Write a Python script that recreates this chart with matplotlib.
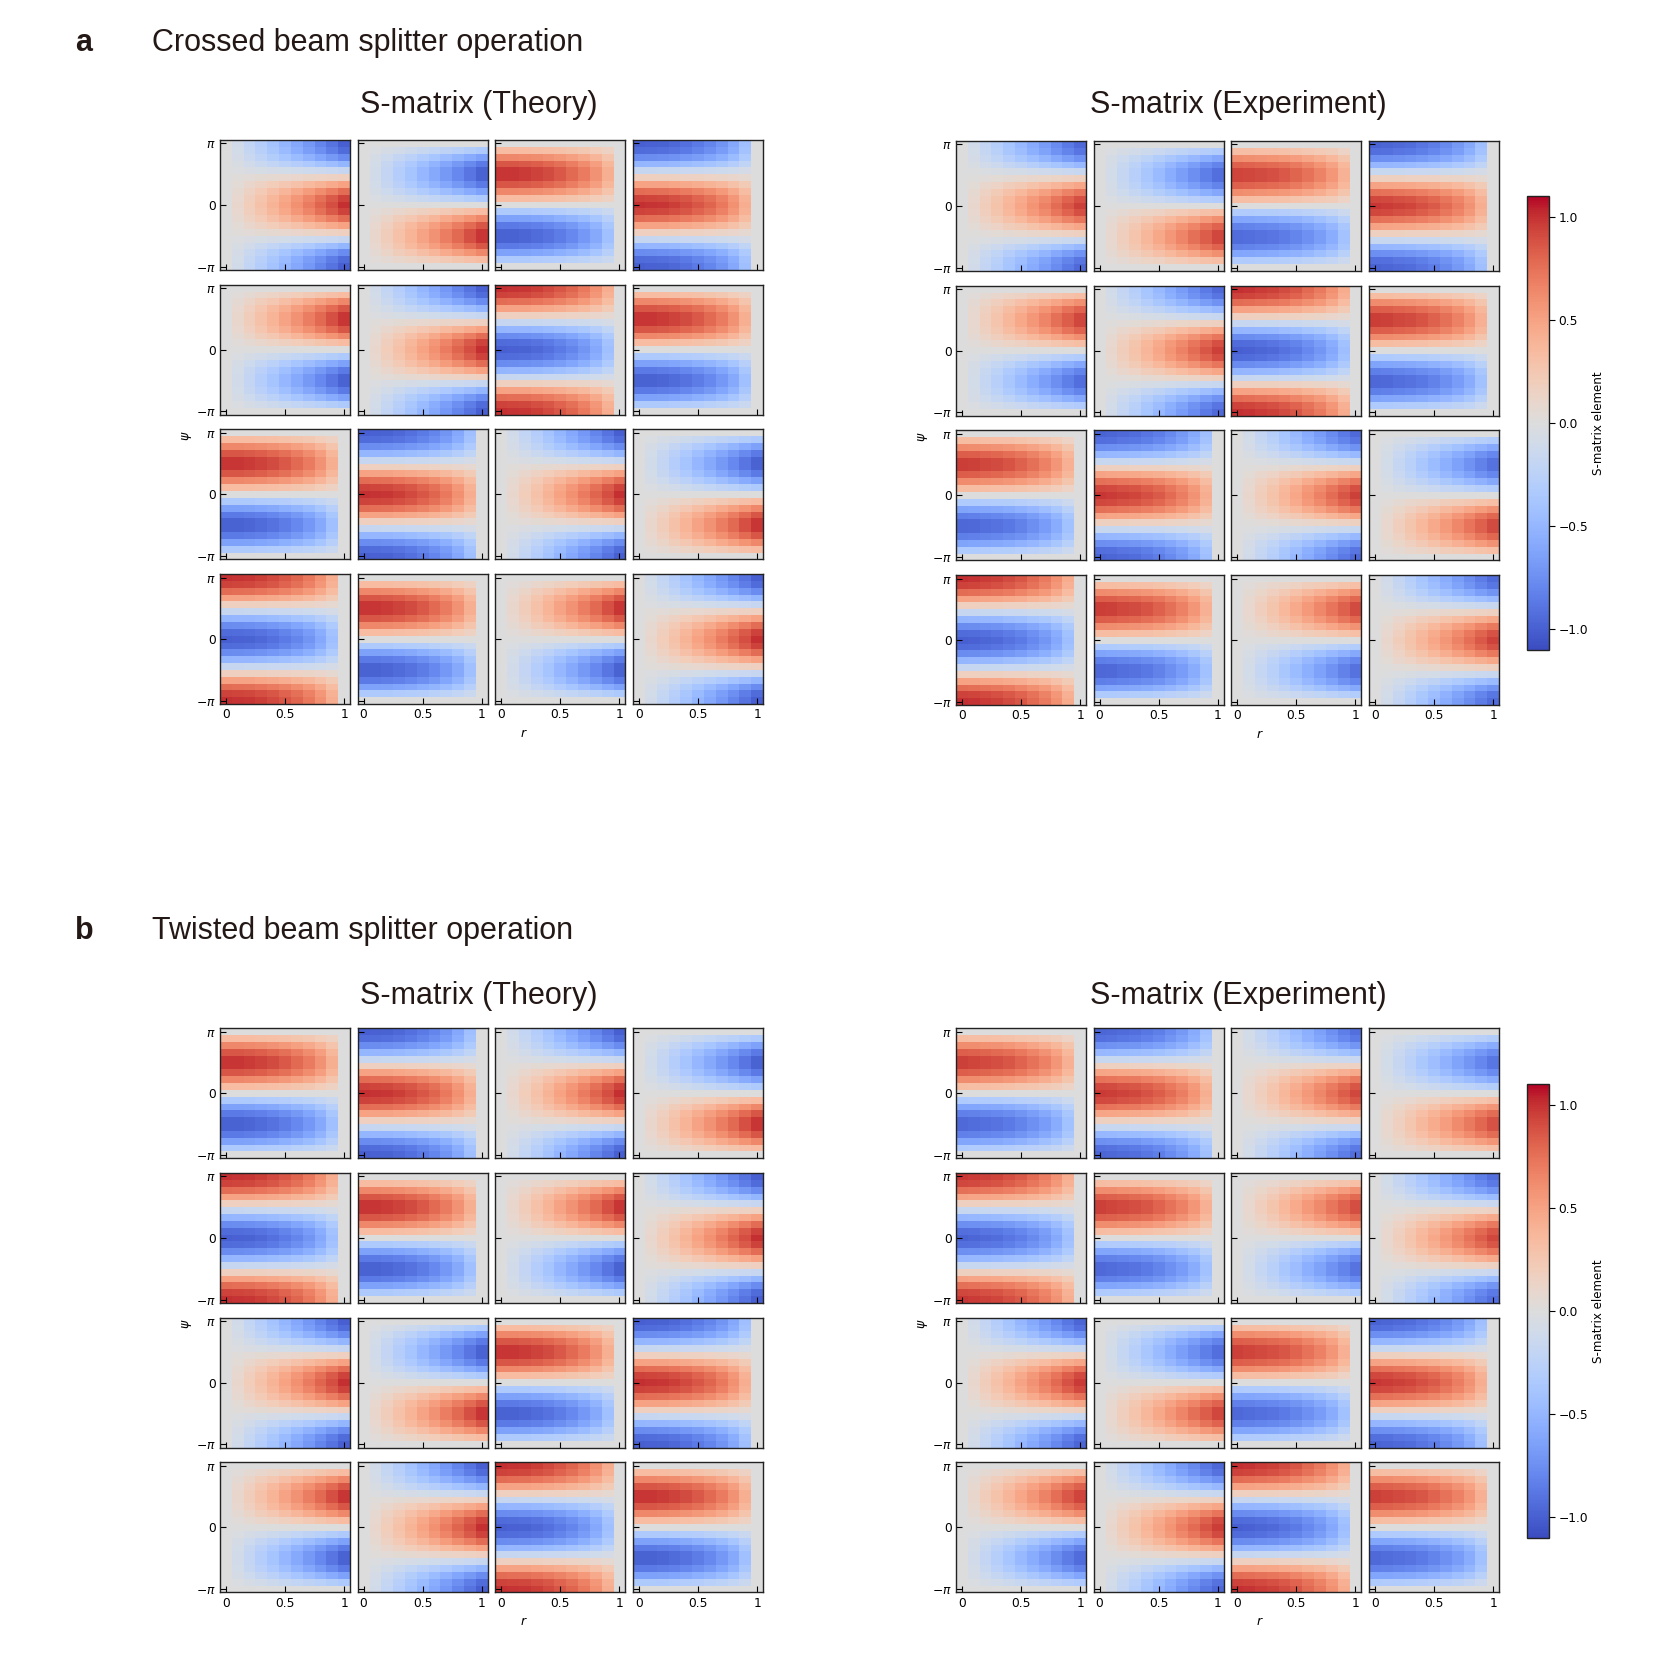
import numpy as np
import matplotlib
matplotlib.use("Agg")
import matplotlib.pyplot as plt

W, H = 1660, 1662
DPI = 100

# sampled grid of every panel
r_vals = [0.0, 0.1, 0.2, 0.3, 0.4, 0.5, 0.6, 0.7, 0.8, 0.9, 1.0]
psi_vals = [-3.142, -2.793, -2.443, -2.094, -1.745, -1.396, -1.047, -0.698, -0.349, 0.0,
            0.349, 0.698, 1.047, 1.396, 1.745, 2.094, 2.443, 2.793, 3.142]

# profiles along r
r_rise = [0.0, 0.1, 0.2, 0.3, 0.4, 0.5, 0.6, 0.7, 0.8, 0.9, 1.0]
r_fall = [1.0, 0.995, 0.98, 0.954, 0.917, 0.866, 0.8, 0.714, 0.6, 0.436, 0.0]
r_rise_exp = [0.0, 0.1, 0.2, 0.3, 0.4, 0.5, 0.6, 0.7, 0.8, 0.9, 0.99]
r_fall_exp = [1.0, 0.99, 0.97, 0.95, 0.91, 0.86, 0.79, 0.71, 0.6, 0.44, 0.0]

# profiles along psi, bottom to top
psi_cos = [-1.0, -0.94, -0.766, -0.5, -0.174, 0.174, 0.5, 0.766, 0.94, 1.0,
           0.94, 0.766, 0.5, 0.174, -0.174, -0.5, -0.766, -0.94, -1.0]
psi_sin = [0.0, -0.342, -0.643, -0.866, -0.985, -0.985, -0.866, -0.643, -0.342, 0.0,
           0.342, 0.643, 0.866, 0.985, 0.985, 0.866, 0.643, 0.342, 0.0]

# which profiles each panel of the 4x4 grid uses
crossed_r = [["rise", "rise", "fall", "fall"],
             ["rise", "rise", "fall", "fall"],
             ["fall", "fall", "rise", "rise"],
             ["fall", "fall", "rise", "rise"]]
crossed_psi = [["cos", "-sin", "sin", "cos"],
               ["sin", "cos", "-cos", "sin"],
               ["sin", "cos", "cos", "-sin"],
               ["-cos", "sin", "sin", "cos"]]
twisted_r = [["fall", "fall", "rise", "rise"],
             ["fall", "fall", "rise", "rise"],
             ["rise", "rise", "fall", "fall"],
             ["rise", "rise", "fall", "fall"]]
twisted_psi = [["sin", "cos", "cos", "-sin"],
               ["-cos", "sin", "sin", "cos"],
               ["cos", "-sin", "sin", "cos"],
               ["sin", "cos", "-cos", "sin"]]

# peak level of each experiment panel
crossed_exp_peak = [[0.96, 0.95, 0.95, 0.98],
                    [0.95, 0.96, 1.0, 0.97],
                    [0.97, 0.98, 0.96, 0.93],
                    [1.0, 0.97, 0.93, 0.95]]
twisted_exp_peak = [[0.96, 0.97, 0.93, 0.9],
                    [0.98, 0.96, 0.92, 0.93],
                    [0.98, 0.95, 0.96, 0.98],
                    [0.96, 0.97, 1.0, 0.96]]

x_ticks = [0, 0.5, 1]
x_labels = ["0", "0.5", "1"]
y_ticks = [-np.pi, 0, np.pi]
y_labels = [r"$-\pi$", "0", r"$\pi$"]
cbar_ticks = [-1.0, -0.5, 0.0, 0.5, 1.0]

VMAX = 1.1
PANEL_W = 130
PANEL_H = 130
PITCH_X = 137.7
PITCH_Y = 144.7
TEXT_COL = "#231815"
HEAD_FONT = "Liberation Sans"
HEAD_SIZE = 22

plt.rcParams["font.family"] = "DejaVu Sans"
plt.rcParams["mathtext.fontset"] = "dejavusans"
fig = plt.figure(figsize=(W / DPI, H / DPI), dpi=DPI)


def px_axes(x, y, w, h):
    return fig.add_axes([x / W, 1 - (y + h) / H, w / W, h / H])


def px_text(x, y, s, **kw):
    kw.setdefault("ha", "left")
    kw.setdefault("va", "center")
    fig.text(x / W, 1 - y / H, s, **kw)


def panel_data(r_name, psi_name, peak, exp):
    if exp:
        rp = r_rise_exp if r_name == "rise" else r_fall_exp
    else:
        rp = r_rise if r_name == "rise" else r_fall
    sign = -1.0 if psi_name.startswith("-") else 1.0
    pp = psi_cos if psi_name.endswith("cos") else psi_sin
    return sign * peak * np.outer(pp, rp)


def draw_grid(x0, y0, r_names, psi_names, peaks=None):
    mesh = None
    for i in range(4):
        for j in range(4):
            ax = px_axes(x0 + j * PITCH_X, y0 + i * PITCH_Y, PANEL_W, PANEL_H)
            peak = 1.0 if peaks is None else peaks[i][j]
            z = panel_data(r_names[i][j], psi_names[i][j], peak, peaks is not None)
            mesh = ax.pcolormesh(r_vals, psi_vals, z, shading="nearest",
                                 cmap="coolwarm", vmin=-VMAX, vmax=VMAX)
            ax.set_xticks(x_ticks)
            ax.set_yticks(y_ticks)
            ax.set_xticklabels(x_labels if i == 3 else [])
            ax.set_yticklabels(y_labels if j == 0 else [])
            ax.tick_params(direction="in", length=4, width=0.8, labelsize=8.8, pad=3)
            for sp in ax.spines.values():
                sp.set_linewidth(1.0)
                sp.set_color("#222222")
    # axis letters sit outside the grid
    px_text(x0 - 33, y0 + 2 * PITCH_Y + 6, r"$\psi$", fontsize=9, rotation=90, ha="center")
    px_text(x0 + 304, y0 + 3 * PITCH_Y + PANEL_H + 29, r"$r$", fontsize=9, ha="center")
    return mesh


def draw_cbar(mesh, y0):
    cax = px_axes(1527, y0, 22, 454)
    cb = fig.colorbar(mesh, cax=cax)
    cb.set_ticks(cbar_ticks)
    cb.ax.tick_params(labelsize=8.8, length=4, width=0.8, pad=3)
    cb.outline.set_linewidth(1.0)
    cb.outline.set_edgecolor("#222222")
    px_text(1598, y0 + 227, "S-matrix element", fontsize=8.6, rotation=90, ha="center")


def header(y, letter, text, y_sub):
    px_text(75, y, letter, family=HEAD_FONT, fontsize=HEAD_SIZE, fontweight="bold", color=TEXT_COL)
    px_text(151.5, y, text, family=HEAD_FONT, fontsize=HEAD_SIZE, color=TEXT_COL)
    px_text(479, y_sub, "S-matrix (Theory)", family=HEAD_FONT, fontsize=HEAD_SIZE,
            color=TEXT_COL, ha="center")
    px_text(1238, y_sub, "S-matrix (Experiment)", family=HEAD_FONT, fontsize=HEAD_SIZE,
            color=TEXT_COL, ha="center")


# a: crossed
header(43, "a", "Crossed beam splitter operation", 104.5)
draw_grid(220, 140, crossed_r, crossed_psi)
m = draw_grid(956, 141, crossed_r, crossed_psi, crossed_exp_peak)
draw_cbar(m, 196)

# b: twisted
header(930.5, "b", "Twisted beam splitter operation", 996)
draw_grid(220, 1028.3, twisted_r, twisted_psi)
m = draw_grid(956, 1028.3, twisted_r, twisted_psi, twisted_exp_peak)
draw_cbar(m, 1084)

fig.savefig("out.png", dpi=DPI)
